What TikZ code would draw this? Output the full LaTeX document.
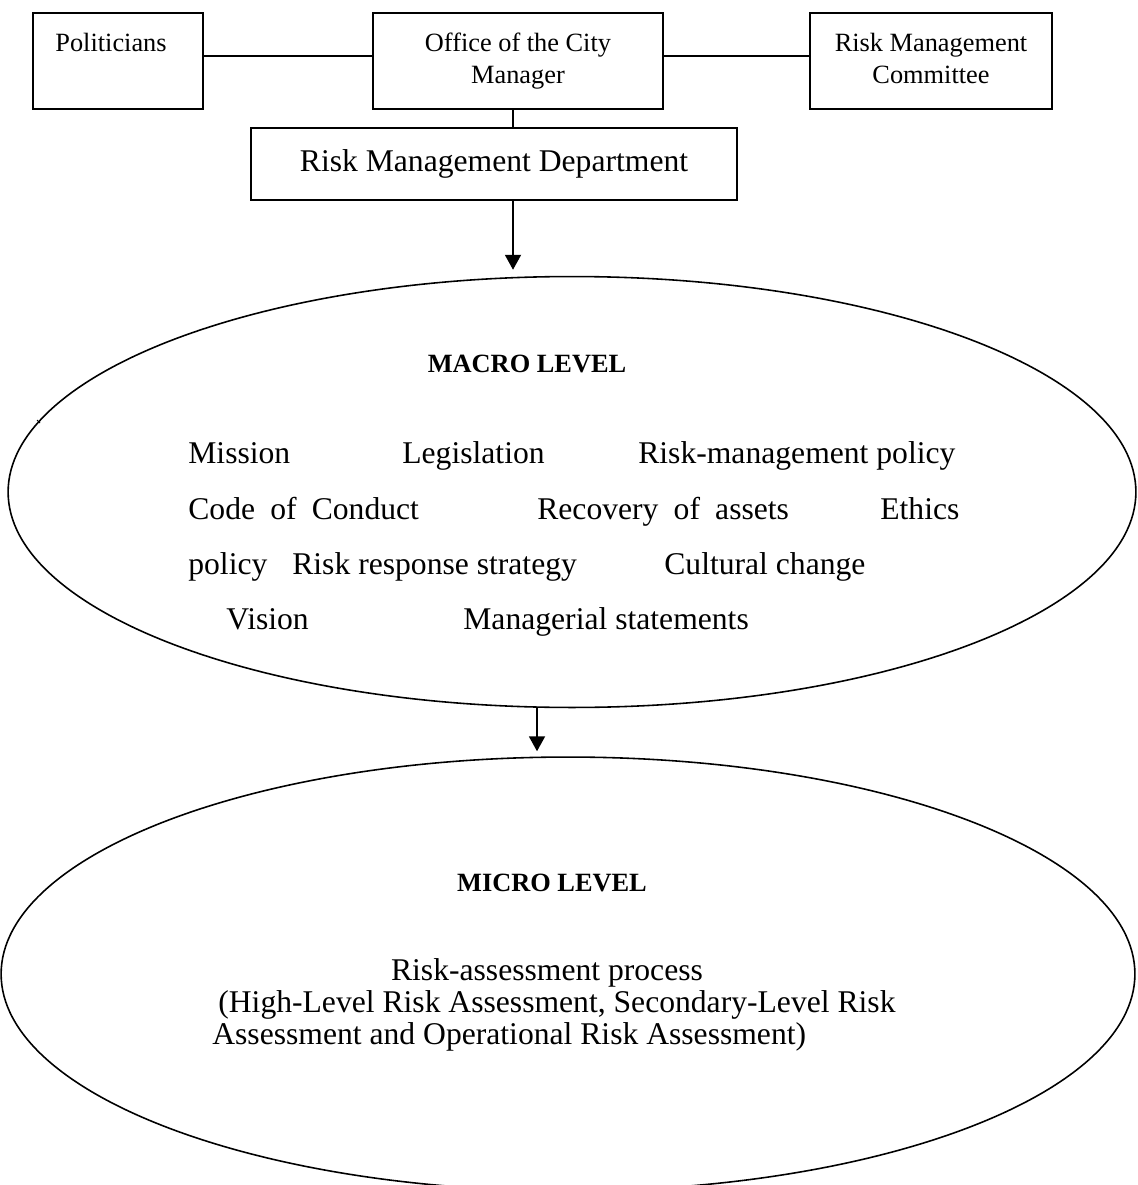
\documentclass[tikz,border=0pt]{standalone}
\usepackage{fontspec}
\setmainfont{Liberation Serif}
\usetikzlibrary{positioning,shapes.geometric,arrows.meta}
\newcommand{\lvword}[4]{\node[word] (#1) at (#2,#3) {#4};}
\newcommand{\wsp}{\hspace{0.48em}}

\begin{document}
\begin{tikzpicture}[x=0.02cm,y=-0.02cm,
	box/.style={draw,line width=1.1pt,inner sep=0pt},
	boxtext/.style={align=center,inner sep=0pt,font=\fontsize{15}{18}\selectfont},
	level/.style={draw,ellipse,line width=0.9pt,inner sep=0pt},
	word/.style={anchor=base west,inner sep=0pt,font=\fontsize{18}{22}\selectfont},
	head/.style={anchor=base,inner sep=0pt,font=\fontsize{15}{18}\selectfont\bfseries},
	link/.style={line width=1.1pt},
	arr/.style={line width=1.1pt,-{Triangle[width=0.32cm,length=0.3cm]}}]
	\useasboundingbox (0,0) rectangle (1137,1185);

	% Top row of boxes
	\node[box,minimum width=3.4cm,minimum height=1.92cm] (pol) at (118,61) {};
	\node[box,minimum width=5.8cm,minimum height=1.92cm] (city) at (518,61) {};
	\node[box,minimum width=4.84cm,minimum height=1.92cm] (rmc) at (931,61) {};
	\node[boxtext,below=0.42cm of pol.north,xshift=-0.14cm] (poltext) {Politicians};
	\node[boxtext,below=0.42cm of city.north] (citytext) {Office of the City\\Manager};
	\node[boxtext,below=0.42cm of rmc.north] (rmctext) {Risk Management\\Committee};

	% Department box
	\node[box,minimum width=9.72cm,minimum height=1.44cm,font=\fontsize{18}{22}\selectfont] (rmd) at (494,164) {Risk Management Department};

	% The two levels
	\node[level,minimum width=22.56cm,minimum height=8.62cm] (macro) at (572,492) {};
	\node[level,minimum width=22.68cm,minimum height=8.68cm] (micro) at (568,974) {};
	\draw[line width=0.6pt] (37,420) -- (40,423);

	% Lines and arrows
	\coordinate (axis) at (513,0);
	\coordinate (drop) at (537,0);
	\draw[link] ([yshift=0.1cm]pol.east) -- ([yshift=0.1cm]city.west);
	\draw[link] ([yshift=0.1cm]city.east) -- ([yshift=0.1cm]rmc.west);
	\draw[link] (city.south -| axis) -- (rmd.north -| axis);
	\draw[arr,shorten >=0.12cm] (rmd.south -| axis) -- (macro.north -| axis);
	\draw[arr,shorten >=0.1cm] (macro.south -| drop) -- (micro.north -| drop);

	% Macro level
	\node[head] (macrohead) at (527,373) {MACRO LEVEL};
	\lvword{mission}{188}{463}{Mission}
	\lvword{legis}{402}{463}{Legislation}
	\lvword{rmpolicy}{638}{463}{Risk-management policy}
	\lvword{conduct}{188}{519}{Code\wsp of\wsp Conduct}
	\lvword{recovery}{537}{519}{Recovery\wsp of\wsp assets}
	\lvword{ethics}{880}{519}{Ethics}
	\lvword{policy}{188}{574}{policy}
	\lvword{response}{292}{574}{Risk response strategy}
	\lvword{culture}{664}{574}{Cultural change}
	\lvword{vision}{226}{629}{Vision}
	\lvword{statements}{463}{629}{Managerial statements}

	% Micro level
	\node[head] (microhead) at (552,891) {MICRO LEVEL};
	\node[word,anchor=base] (process) at (547,980) {Risk-assessment process};
	\lvword{kinds}{218}{1012}{(High-Level Risk Assessment, Secondary-Level Risk}
	\lvword{kindsb}{212}{1044}{Assessment and Operational Risk Assessment)}
\end{tikzpicture}
\end{document}
